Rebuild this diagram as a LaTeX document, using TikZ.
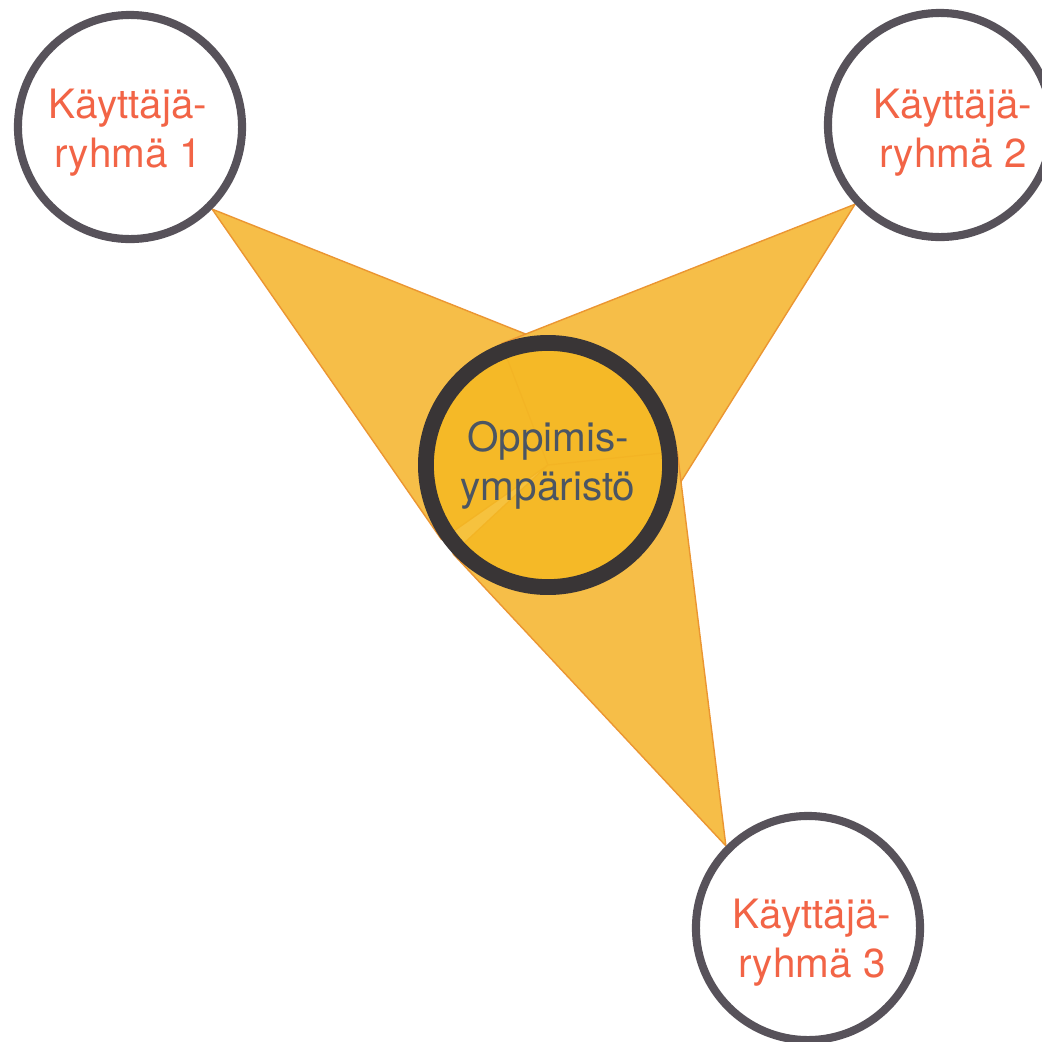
\documentclass[tikz,border=0pt]{standalone}
\usepackage{fontspec}
\setmainfont{TeX Gyre Heros}
\definecolor{ringgray}{HTML}{57525A}
\definecolor{hubring}{HTML}{393536}
\definecolor{hubfill}{HTML}{F5B923}
\definecolor{spikefill}{HTML}{F6BE48}
\definecolor{spikeedge}{HTML}{EB9632}
\definecolor{grouptxt}{HTML}{F26446}
\definecolor{hubtxt}{HTML}{4B5563}
\pgfdeclarelayer{background}
\pgfsetlayers{background,main}

\begin{document}
\begin{tikzpicture}[x=0.01cm, y=-0.01cm,
group/.style = {circle, draw=ringgray, line width=2.3pt, fill=white, minimum size=2.24cm, inner sep=0pt},
hub/.style = {circle, draw=hubring, line width=4.5pt, fill=hubfill, fill opacity=0.88, text opacity=1, minimum size=2.44cm, inner sep=0pt, align=center, text=hubtxt, font=\fontsize{11.5}{14}\selectfont},
grouptext/.style = {align=center, text=grouptxt, inner sep=0pt, font=\fontsize{11.5}{14}\selectfont},
spike/.style = {fill=spikefill, draw=spikeedge, line width=0.4pt, line join=round},
]
\useasboundingbox (0,0) rectangle (1042,1042);

% Draw user groups and learning environment
\node[hub] (env) at (548,465) {Oppimis-\\ympäristö};
\node[group] (g1) at (130,127) {};
\node[group] (g2) at (940,125) {};
\node[group] (g3) at (808,928) {};

% Label groups
\node[grouptext] (t1) at ([shift={(-2,6)}]g1.center) {Käyttäjä-\\ryhmä 1};
\node[grouptext] (t2) at ([shift={(13,8)}]g2.center) {Käyttäjä-\\ryhmä 2};
\node[grouptext] (t3) at ([shift={(4,15)}]g3.center) {Käyttäjä-\\ryhmä 3};

% Draw spikes
\begin{pgfonlayer}{background}
\draw[spike] (g1.-45) -- (env.39) -- (env.center) -- (env.215) -- cycle;
\draw[spike] (g2.223) -- (env.111) -- (env.center) -- (env.-53) -- cycle;
\draw[spike] (g3.135) -- (env.6) -- (env.center) -- (env.223) -- cycle;
\end{pgfonlayer}

\end{tikzpicture}
\end{document}
